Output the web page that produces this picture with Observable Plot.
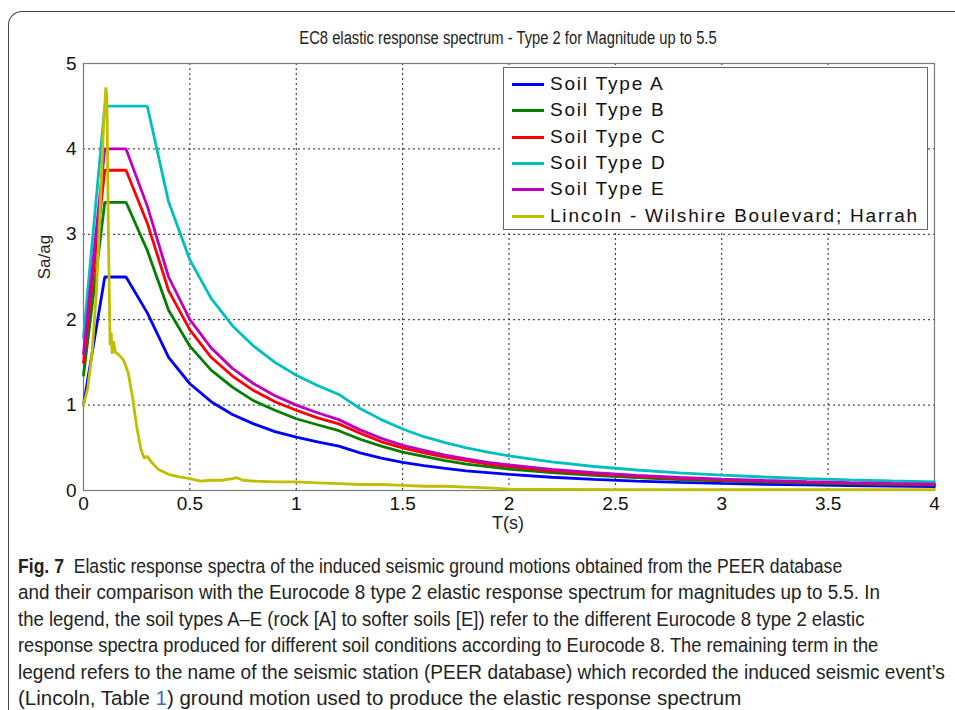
<!DOCTYPE html>
<html><head><meta charset="utf-8">
<script src="https://cdn.jsdelivr.net/npm/d3@7"></script>
<script src="https://cdn.jsdelivr.net/npm/@observablehq/plot@0.6"></script>
<style>
html,body{margin:0;padding:0;background:#fff;}
#page{position:relative;width:955px;height:710px;overflow:hidden;font-family:"Liberation Sans",Arial,sans-serif;color:#222;}
#frame{position:absolute;left:8px;top:11px;width:1000px;height:800px;border-left:1.5px solid #444;border-top:1.5px solid #444;border-top-left-radius:14px;}
#chart{position:absolute;left:0;top:0;}
#title{position:absolute;left:508px;top:28px;transform:translateX(-50%) scaleX(0.82);font-size:18px;white-space:nowrap;}
#ylab{position:absolute;left:45px;top:257px;transform:translate(-50%,-50%) rotate(-90deg);font-size:17px;white-space:nowrap;}
#xlab{position:absolute;left:508px;top:523px;transform:translate(-50%,-50%);font-size:18px;white-space:nowrap;}
#legend{position:absolute;left:503px;top:67px;width:423px;height:161px;border:1.5px solid #666;background:#fff;}
.row{position:absolute;left:0;height:26px;width:100%;}
.sw{position:absolute;left:8px;top:12px;width:32px;height:3px;}
.lt{position:absolute;left:46px;top:2px;font-size:19px;letter-spacing:1.8px;white-space:nowrap;line-height:22px;color:#111;}
#caption{position:absolute;left:18px;top:553px;font-family:"Liberation Sans",Arial,sans-serif;font-size:20.5px;line-height:26.4px;color:#222;}
#caption .ln{white-space:nowrap;transform-origin:0 0;height:26.4px;}
#caption b{font-weight:bold;}
.lnk{color:#3a6fc4;}
</style></head>
<body><div id="page">
<div id="frame"></div>
<div id="chart"></div>
<div id="title">EC8 elastic response spectrum - Type 2 for Magnitude up to 5.5</div>
<div id="ylab">Sa/ag</div>
<div id="xlab">T(s)</div>
<div id="legend"></div>
<div id="caption">
<div class="ln" style="transform:scaleX(0.858)"><b>Fig. 7</b>&nbsp; Elastic response spectra of the induced seismic ground motions obtained from the PEER database</div>
<div class="ln" style="transform:scaleX(0.918)">and their comparison with the Eurocode 8 type 2 elastic response spectrum for magnitudes up to 5.5. In</div>
<div class="ln" style="transform:scaleX(0.904)">the legend, the soil types A–E (rock [A] to softer soils [E]) refer to the different Eurocode 8 type 2 elastic</div>
<div class="ln" style="transform:scaleX(0.892)">response spectra produced for different soil conditions according to Eurocode 8. The remaining term in the</div>
<div class="ln" style="transform:scaleX(0.930)">legend refers to the name of the seismic station (PEER database) which recorded the induced seismic event’s</div>
<div class="ln" style="transform:scaleX(1.0)">(Lincoln, Table <span class="lnk">1</span>) ground motion used to produce the elastic response spectrum</div>
</div>
</div>
<script>
// Periods (s) at which the EC8 spectra are read
const T = [0,0.1,0.2,0.3,0.4,0.5,0.6,0.7,0.8,0.9,1.0,1.1,1.2,1.3,1.4,1.5,1.6,1.7,1.8,1.9,2.0,2.2,2.4,2.6,2.8,3.0,3.2,3.4,3.6,3.8,4.0];
const soilA = [1.0,2.5,2.5,2.08,1.56,1.25,1.04,0.89,0.78,0.69,0.625,0.57,0.52,0.44,0.38,0.33,0.29,0.26,0.23,0.21,0.19,0.155,0.13,0.11,0.096,0.083,0.073,0.065,0.058,0.052,0.047];
const soilB = [1.35,3.375,3.375,2.81,2.11,1.69,1.41,1.21,1.05,0.94,0.84,0.77,0.70,0.60,0.52,0.45,0.40,0.35,0.31,0.28,0.25,0.21,0.176,0.15,0.129,0.113,0.099,0.088,0.078,0.070,0.063];
const soilC = [1.5,3.75,3.75,3.13,2.34,1.88,1.56,1.34,1.17,1.04,0.94,0.85,0.78,0.67,0.57,0.50,0.44,0.39,0.35,0.31,0.28,0.23,0.195,0.166,0.143,0.125,0.110,0.097,0.087,0.078,0.070];
const soilD = [1.8,4.5,4.5,4.5,3.38,2.7,2.25,1.93,1.69,1.5,1.35,1.23,1.125,0.96,0.83,0.72,0.63,0.56,0.50,0.45,0.405,0.335,0.281,0.24,0.207,0.18,0.158,0.14,0.125,0.112,0.101];
const soilE = [1.6,4.0,4.0,3.33,2.5,2.0,1.67,1.43,1.25,1.11,1.0,0.91,0.83,0.71,0.61,0.53,0.47,0.415,0.37,0.33,0.30,0.248,0.208,0.178,0.153,0.133,0.117,0.104,0.093,0.083,0.075];
// Lincoln - Wilshire Boulevard; Harrah record
const lincolnT = [0,0.02,0.04,0.06,0.08,0.095,0.105,0.11,0.117,0.125,0.13,0.135,0.14,0.15,0.17,0.19,0.21,0.23,0.25,0.27,0.285,0.30,0.32,0.35,0.40,0.45,0.50,0.55,0.60,0.65,0.70,0.72,0.75,0.80,0.90,1.00,1.10,1.20,1.30,1.40,1.50,1.60,1.70,1.80,1.90,2.00,2.50,3.00,3.50,4.00];
const lincolnSa = [1.0,1.2,1.6,2.3,3.4,4.3,4.72,4.6,3.0,1.7,1.85,1.6,1.75,1.62,1.58,1.52,1.38,1.1,0.75,0.48,0.38,0.40,0.33,0.25,0.19,0.16,0.14,0.11,0.12,0.12,0.14,0.15,0.12,0.11,0.10,0.10,0.09,0.08,0.07,0.07,0.06,0.05,0.05,0.04,0.03,0.015,0.01,0.01,0.01,0.01];

const seriesNames = ["Soil Type A","Soil Type B","Soil Type C","Soil Type D","Soil Type E","Lincoln - Wilshire Boulevard; Harrah"];
const seriesColors = ["#0000ff","#007f00","#ff0000","#00bfbf","#bf00bf","#bfbf00"];
const xTicks = [0,0.5,1,1.5,2,2.5,3,3.5,4];
const yTicks = [0,1,2,3,4,5];
const xGrid = [0.5,1,1.5,2,2.5,3,3.5];
const yGrid = [1,2,3,4];

const soilSeries = [soilA, soilB, soilC, soilD, soilE];
const rows = [];
soilSeries.forEach((vals, i) => T.forEach((t, j) => rows.push({T: t, Sa: vals[j], name: seriesNames[i]})));
lincolnT.forEach((t, j) => rows.push({T: t, Sa: lincolnSa[j], name: seriesNames[5]}));

const lineMarks = seriesNames.map((n, i) =>
  Plot.line(rows.filter(r => r.name === n), {x: "T", y: "Sa", stroke: seriesColors[i], strokeWidth: 2.8, strokeLinejoin: "miter"}));

const fmt = d => String(d);
const chart = Plot.plot({
  width: 955, height: 540,
  marginTop: 63, marginBottom: 50, marginLeft: 83, marginRight: 21,
  x: {domain: [0, 4]},
  y: {domain: [0, 5]},
  style: {fontFamily: "'Liberation Sans', Arial, sans-serif", fontSize: "18px", color: "#111", background: "transparent", overflow: "visible"},
  marks: [
    Plot.gridX(xGrid, {stroke: "#222", strokeOpacity: 1, strokeWidth: 1, strokeDasharray: "2,3"}),
    Plot.gridY(yGrid, {stroke: "#222", strokeOpacity: 1, strokeWidth: 1, strokeDasharray: "2,3"}),
    Plot.frame({stroke: "#7a7a7a", strokeWidth: 1.2}),
    Plot.axisX(xTicks, {tickSize: 0, tickPadding: 6, label: null, fontSize: 19, tickFormat: fmt}),
    Plot.axisY(yTicks, {tickSize: 0, tickPadding: 7, label: null, fontSize: 19, tickFormat: fmt}),
    ...lineMarks
  ]
});
document.getElementById("chart").appendChild(chart);

const legend = document.getElementById("legend");
seriesNames.forEach((n, i) => {
  const r = document.createElement("div");
  r.className = "row";
  r.style.top = (3 + i * 26.3) + "px";
  r.innerHTML = `<div class="sw" style="background:${seriesColors[i]}"></div><div class="lt">${n}</div>`;
  legend.appendChild(r);
});
</script>
</body></html>
